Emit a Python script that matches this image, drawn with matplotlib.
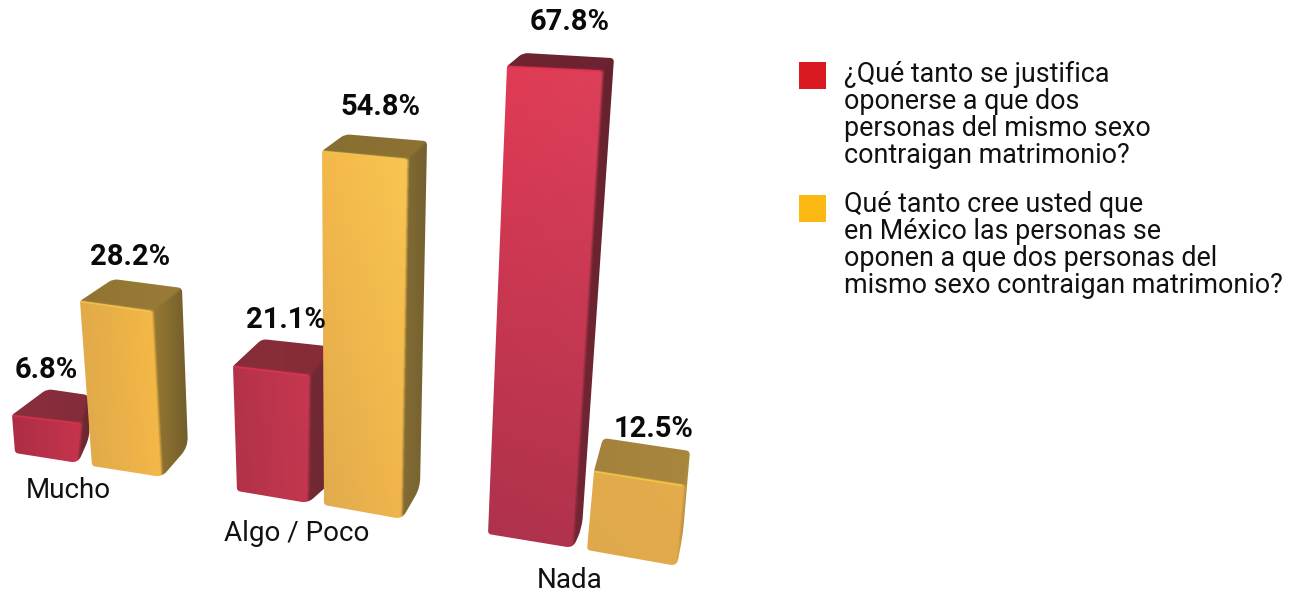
import numpy as np
import matplotlib
matplotlib.use("Agg")
import matplotlib.pyplot as plt
from matplotlib.path import Path
from matplotlib.patches import PathPatch, Rectangle

# ---- data ----
categories = ["Mucho", "Algo / Poco", "Nada"]
justifica = [6.8, 21.1, 67.8]
cree = [28.2, 54.8, 12.5]
legend_justifica = ["¿Qué tanto se justifica", "oponerse a que dos",
                    "personas del mismo sexo", "contraigan matrimonio?"]
legend_cree = ["Qué tanto cree usted que", "en México las personas se",
               "oponen a que dos personas del", "mismo sexo contraigan matrimonio?"]

# ---- perspective of each bar: floor corners and px-per-percent rise ----
# order of corners: front-left, front-right, side-back, back-left
GEOM = {
    (0, 0): dict(base=[(15, 453), (78, 463), (90, 436), (49, 429)],
                 rise=[(-.44, -5.59), (.59, -5.88), (-.29, -6.03), (-.29, -5.88)]),
    (0, 1): dict(base=[(92, 466), (162, 477), (188, 447), (118, 440)],
                 rise=[(-.426, -5.85), (-.319, -5.89), (-.213, -5.64), (-.177, -5.71)]),
    (1, 0): dict(base=[(237, 491), (308, 503), (336, 478), (264, 465)],
                 rise=[(-.19, -5.92), (.095, -6.07), (-.047, -6.21), (-.095, -5.97)]),
    (1, 1): dict(base=[(324, 505), (402, 519), (420, 488), (342, 480)],
                 rise=[(-.036, -6.46), (.109, -6.57), (.128, -6.33), (.055, -6.31)]),
    (2, 0): dict(base=[(488, 534), (573, 548), (582, 528), (497, 518)],
                 rise=[(.28, -6.90), (.442, -7.04), (.472, -6.93), (.383, -6.86)]),
    (2, 1): dict(base=[(587, 550), (677, 566), (683, 533), (596, 518)],
                 rise=[(.56, -6.32), (.64, -6.48), (.56, -6.56), (.56, -6.4)]),
}
# front (tl, tr, bl, br), top (l, r), side (l, r), highlight
SHADE = {
    (0, 0): dict(front=[(172, 46, 70), (198, 52, 76), (172, 46, 70), (198, 52, 76)],
                 top=[(138, 46, 60), (132, 44, 58)], side=[(120, 42, 52), (105, 38, 48)], hi=(225, 50, 80)),
    (0, 1): dict(front=[(226, 170, 72), (246, 186, 70), (222, 168, 76), (244, 184, 72)],
                 top=[(146, 116, 50), (154, 124, 56)], side=[(150, 120, 50), (114, 94, 44)], hi=(250, 205, 85)),
    (1, 0): dict(front=[(180, 50, 72), (198, 56, 80), (176, 50, 72), (196, 54, 78)],
                 top=[(136, 46, 58), (134, 44, 56)], side=[(118, 42, 52), (104, 38, 48)], hi=(235, 50, 85)),
    (1, 1): dict(front=[(244, 184, 74), (248, 198, 82), (224, 170, 78), (242, 182, 74)],
                 top=[(136, 110, 50), (142, 114, 52)], side=[(132, 108, 52), (116, 96, 48)], hi=(252, 205, 85)),
    (2, 0): dict(front=[(226, 58, 84), (222, 64, 90), (172, 50, 76), (178, 50, 76)],
                 top=[(112, 36, 50), (108, 34, 48)], side=[(116, 38, 52), (102, 34, 46)], hi=(245, 50, 85)),
    (2, 1): dict(front=[(226, 170, 74), (228, 172, 74), (222, 168, 76), (226, 170, 76)],
                 top=[(164, 130, 60), (168, 134, 62)], side=[(196, 150, 66), (176, 136, 60)], hi=(250, 210, 70)),
}
# offset of each value label from the top back-left corner: dx of centre, dy of baseline
LABEL_OFFSET = {(0, 0): (-1, -11), (0, 1): (17, -14), (1, 0): (24, -11),
                (1, 1): (35, -19), (2, 0): (47, -23), (2, 1): (51, -1)}

S = 3  # raster supersampling of a bar


def rounded_path(pts, radii):
    """Closed polygon whose corners are rounded with quadratic curves."""
    pts = np.asarray(pts, float)
    n = len(pts)
    verts, codes = [], []
    for i in range(n):
        p, prev, nxt = pts[i], pts[i - 1], pts[(i + 1) % n]
        r = radii[i]
        a = p + (prev - p) / np.linalg.norm(prev - p) * r
        b = p + (nxt - p) / np.linalg.norm(nxt - p) * r
        verts += [a, p, b]
        codes += [Path.MOVETO if i == 0 else Path.LINETO, Path.CURVE3, Path.CURVE3]
    verts.append(verts[0])
    codes.append(Path.CLOSEPOLY)
    return Path(verts, codes)


def blur(a, k):
    ker = np.ones(k) / k
    a = np.apply_along_axis(lambda m: np.convolve(m, ker, mode="same"), 0, a)
    return np.apply_along_axis(lambda m: np.convolve(m, ker, mode="same"), 1, a)


def draw_bar(ax, value, key, zorder):
    g, sh = GEOM[key], SHADE[key]
    base = np.array(g["base"], float)
    rise = np.array(g["rise"], float)
    top = base + value * rise
    fl, fr, sb, _ = base
    tfl, tfr, tsb, tbl = top

    x0, x1 = np.floor(min(base[:, 0].min(), top[:, 0].min())) - 3, np.ceil(max(base[:, 0].max(), top[:, 0].max())) + 3
    y0, y1 = np.floor(min(base[:, 1].min(), top[:, 1].min())) - 3, np.ceil(max(base[:, 1].max(), top[:, 1].max())) + 3
    nx, ny = int((x1 - x0) * S), int((y1 - y0) * S)
    xs = x0 + (np.arange(nx) + .5) / S
    ys = y0 + (np.arange(ny) + .5) / S
    X, Y = np.meshgrid(xs, ys)
    pts = np.c_[X.ravel(), Y.ravel()]

    faces = {"front": [tfl, tfr, fr, fl], "top": [tfl, tfr, tsb, tbl], "side": [tfr, tsb, sb, fr]}
    rgb = np.zeros((ny, nx, 3))
    mask = np.zeros((ny, nx))
    for name, poly in faces.items():
        poly = np.array(poly)
        inside = Path(poly).contains_points(pts).reshape(ny, nx)
        u = (X - poly[:, 0].min()) / max(np.ptp(poly[:, 0]), 1)
        v = (Y - poly[:, 1].min()) / max(np.ptp(poly[:, 1]), 1)
        u, v = np.clip(u, 0, 1)[..., None], np.clip(v, 0, 1)[..., None]
        if name == "front":
            c = np.array(sh["front"], float)
            col = (1 - v) * ((1 - u) * c[0] + u * c[1]) + v * ((1 - u) * c[2] + u * c[3])
        else:
            c = np.array(sh[name], float)
            col = (1 - u) * c[0] + u * c[1]
        rgb[inside] = col[inside]
        mask[inside] = 1

    # soften the creases between the faces, ignoring everything outside the bar
    k = 3 * S + 1
    weight = np.maximum(blur(mask, k), 1e-4)
    smooth = np.dstack([blur(rgb[..., i] * mask, k) / weight for i in range(3)])
    smooth = np.clip(smooth, 0, 255) / 255

    clip = rounded_path([fl, fr, sb, tsb, tbl, tfl], [3, 7, 10, 4, 5, 2])
    patch = PathPatch(clip, transform=ax.transData, fc="none", ec="none")
    ax.add_patch(patch)
    im = ax.imshow(smooth, extent=(x0, x1, y1, y0), interpolation="antialiased",
                   zorder=zorder, aspect="auto")
    im.set_clip_path(patch)
    # thin bright seam where the front meets the top
    seam, = ax.plot([tfl[0], tfr[0] - 3], [tfl[1] + .5, tfr[1] + .5], color=np.array(sh["hi"]) / 255,
                    lw=1.3, alpha=.75, zorder=zorder + .1, solid_capstyle="round")
    seam.set_clip_path(patch)
    return tbl


fig = plt.figure(figsize=(12.95, 5.92), dpi=100, facecolor="white")
ax = fig.add_axes([0, 0, 1, 1])
ax.set_xlim(0, 1295)
ax.set_ylim(592, 0)
ax.axis("off")

TXT = "#111111"
LABEL_FONT = dict(family="Roboto", weight="bold", fontsize=21, color="#0a0a0a", ha="center", va="baseline")
CAT_FONT = dict(family="Roboto", fontsize=20, color=TXT, va="baseline")
LEG_FONT = dict(family="Roboto", fontsize=19.4, color=TXT, va="baseline")

for i in range(len(categories)):
    for j, vals in enumerate([justifica, cree]):
        anchor = draw_bar(ax, vals[i], (i, j), zorder=2 + i * 2 + j * .5)
        dx, dy = LABEL_OFFSET[(i, j)]
        ax.text(anchor[0] + dx, anchor[1] + dy, f"{vals[i]:.1f}%", zorder=20, **LABEL_FONT)
ax.set_xlim(0, 1295)
ax.set_ylim(592, 0)

# category names below each group
cat_x = [68, 297, 570]
cat_y = [498, 541, 588]
for name, x, y in zip(categories, cat_x, cat_y):
    ax.text(x, y, name, ha="center", zorder=20, **CAT_FONT)

# legend
for lines, col, sy, by in [(legend_justifica, "#DA1A21", 62, 82),
                           (legend_cree, "#FDB913", 195, 212)]:
    ax.add_patch(Rectangle((799, sy), 27, 27, fc=col, ec="none", zorder=5))
    for n, line in enumerate(lines):
        ax.text(844, by + n * 27, line, ha="left", **LEG_FONT)

fig.savefig("out.png", dpi=100, facecolor="white")
